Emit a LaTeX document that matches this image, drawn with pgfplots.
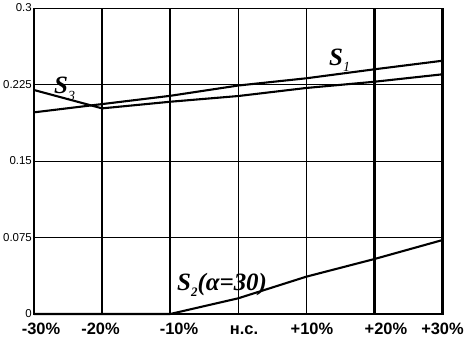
\documentclass[border=0pt]{standalone}
\usepackage{fontspec}
\setmainfont{Liberation Sans}
\newfontfamily\tnr{Liberation Serif}
\usepackage{pgfplots}
\pgfplotsset{compat=1.18}
\begin{document}
\begin{tikzpicture}
\begin{axis}[name=ax, scale only axis, width=408.5bp, height=306bp,
  xmin=-3, xmax=3, ymin=0, ymax=0.3,
  axis line style={line width=0.9pt},
  xtick={-2.897,-2.023,-0.870,0.085,1.083,2.170,3},
  xticklabels={-30\%,-20\%,-10\%,н.с.,+10\%,+20\%,+30\%},
  xticklabel style={font=\fontsize{16.5}{16.5}\selectfont\bfseries, anchor=base, inner sep=0pt, yshift=-20.5bp},
  ytick={0,0.075,0.15,0.225,0.3},
  yticklabels={0,0.075,0.15,0.225,0.3},
  yticklabel style={font=\fontsize{11.5}{11.5}\selectfont, anchor=east, inner sep=0pt, xshift=-2bp},
  major tick length=0pt,
  ymajorgrids, major grid style={black, line width=0.9pt},
  clip=false,
]
% grid lines (vertical)
\draw[black, line width=0.9pt] (axis cs:0,0) -- (axis cs:0,0.3);
\draw[black, line width=0.9pt] (axis cs:1,0) -- (axis cs:1,0.3);
\draw[black, line width=2.4pt] (axis cs:-2,0) -- (axis cs:-2,0.3);
\draw[black, line width=2.4pt] (axis cs:-1,0) -- (axis cs:-1,0.3);
\draw[black, line width=2.4pt] (axis cs:2,0) -- (axis cs:2,0.3);
\draw[black, line width=2.4pt] (axis cs:-3,0.3) -- (axis cs:-3,0) -- (axis cs:3,0) -- (axis cs:3,0.3);

\addplot[black, line width=2.1pt, mark=none] coordinates {
(-3,0.1977) (-2,0.2058) (-1,0.2139) (0,0.2240) (1,0.2311) (2,0.2399) (3,0.2483)};
\addplot[black, line width=2.1pt, mark=none] coordinates {
(-3,0.2196) (-2,0.2016) (-1,0.2081) (0,0.2137) (1,0.2216) (2,0.2277) (3,0.2350)};
\addplot[black, line width=2.1pt, mark=none] coordinates {
(-3,0) (-2,0) (-1,0) (0,0.0154) (1,0.0366) (2,0.0539) (3,0.0725)};

\node[anchor=base west, inner sep=0pt, font=\tnr\fontsize{25}{25}\selectfont\bfseries\itshape] at (axis cs:1.333,0.2441) {S\raisebox{-0.25em}{\fontsize{14}{14}\selectfont\mdseries 1}};
\node[anchor=base west, inner sep=0pt, font=\tnr\fontsize{25}{25}\selectfont\bfseries\itshape] at (axis cs:-2.706,0.2157) {S\raisebox{-0.25em}{\fontsize{14}{14}\selectfont\mdseries 3}};
\node[anchor=base west, inner sep=0pt, font=\tnr\fontsize{25}{25}\selectfont\bfseries\itshape] at (axis cs:-0.900,0.0235) {S\raisebox{-0.25em}{\fontsize{13}{13}\selectfont 2}(α=30)};
\end{axis}
\pgfresetboundingbox
\path ([xshift=-34bp,yshift=-27bp]ax.south west) rectangle ([xshift=29.5bp,yshift=8bp]ax.north east);
\end{tikzpicture}
\end{document}
